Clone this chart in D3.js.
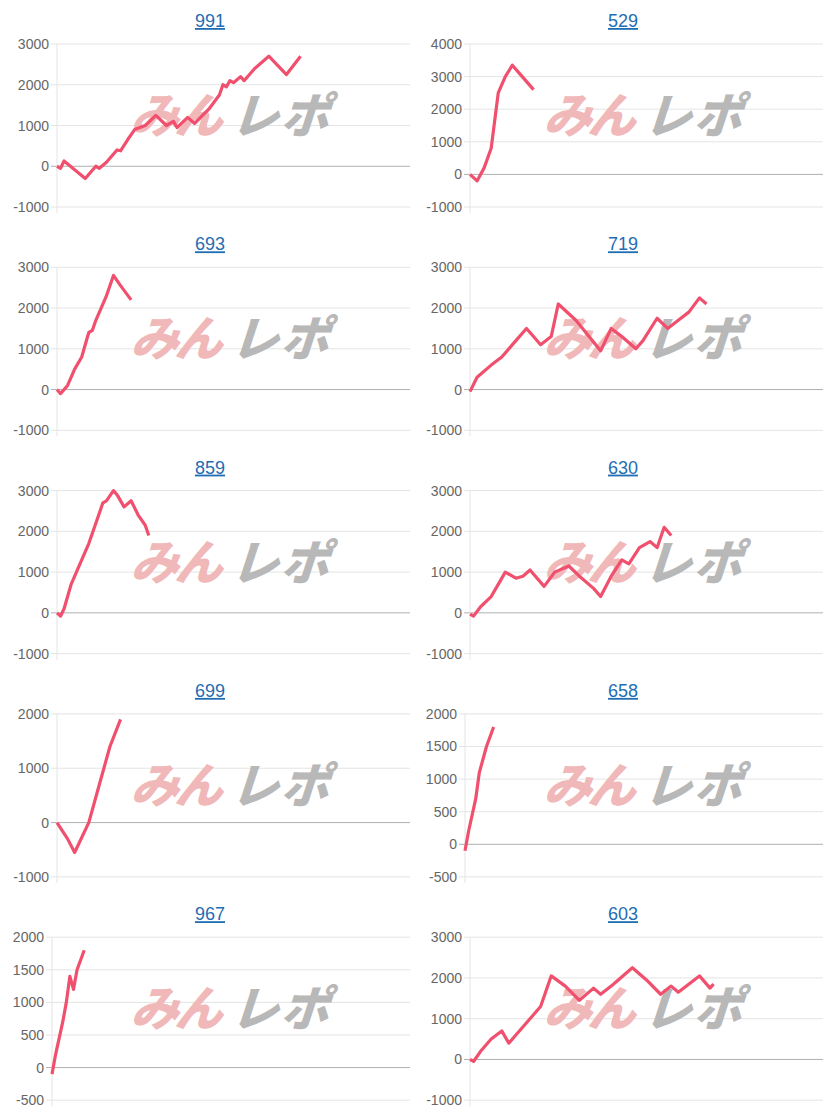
<!DOCTYPE html>
<html><head><meta charset="utf-8">
<script src="https://cdn.jsdelivr.net/npm/d3@7"></script>
<style>body{margin:0;background:#fff;font-family:"Liberation Sans",Arial,sans-serif}</style>
</head><body>
<svg id="c" width="826" height="1115"></svg>
<script>
const titles = ['991', '529', '693', '719', '859', '630', '699', '658', '967', '603'];

// [game index, profit]
const s991 = [[0,0],[1,-50],[2,130],[8,-300],[11,0],[12,-50],[14,100],[17,400],[18,380],[20,650],[22,900],[25,1000],[28,1250],[31,1000],[33,1100],[34,950],[37,1200],[39,1050],[43,1400],[46,1750],[47,2000],[48,1950],[49,2100],[50,2050],[52,2200],[53,2100],[56,2400],[60,2700],[65,2250],[69,2700]];
const s529 = [[0,0],[2,-200],[4,200],[6,800],[8,2500],[10,3000],[12,3350],[14,3100],[18,2600]];
const s693 = [[0,0],[1,-100],[3,100],[5,500],[7,800],[9,1400],[10,1450],[11,1700],[14,2300],[16,2800],[18,2550],[21,2200]];
const s719 = [[0,-50],[2,300],[6,600],[9,800],[13,1200],[16,1500],[18,1300],[20,1100],[23,1300],[25,2100],[30,1700],[37,950],[40,1500],[43,1300],[47,1000],[49,1200],[53,1750],[56,1500],[59,1700],[62,1900],[65,2250],[67,2100]];
const s859 = [[0,0],[1,-80],[2,100],[4,700],[7,1300],[9,1700],[11,2200],[13,2700],[14,2750],[16,3000],[17,2900],[19,2600],[21,2750],[23,2400],[25,2150],[26,1900]];
const s630 = [[0,-30],[1,-80],[3,150],[6,400],[8,700],[10,1000],[13,850],[15,900],[17,1050],[21,650],[24,1000],[28,1150],[31,900],[35,600],[37,400],[40,900],[43,1300],[45,1200],[48,1600],[51,1750],[53,1600],[55,2100],[57,1900]];
const s699 = [[0,0],[3,-300],[5,-550],[9,0],[12,700],[15,1400],[18,1900]];
const s658 = [[0,-100],[1,200],[3,700],[4,1100],[6,1500],[8,1800]];
const s967 = [[0,-100],[1,200],[3,700],[4,1000],[5,1400],[6,1200],[7,1500],[9,1800]];
const s603 = [[0,0],[1,-50],[3,200],[6,500],[9,700],[11,400],[13,600],[17,1000],[20,1300],[23,2050],[27,1800],[31,1450],[35,1750],[37,1600],[40,1800],[42,1950],[46,2250],[50,1950],[54,1600],[57,1800],[59,1650],[65,2050],[68,1750],[69,1850]];
const series = [s991, s529, s693, s719, s859, s630, s699, s658, s967, s603];

const yDomains = [[-1000,3000],[-1000,4000],[-1000,3000],[-1000,3000],[-1000,3000],[-1000,3000],[-1000,2000],[-500,2000],[-500,2000],[-1000,3000]];
const ySteps = [1000,1000,1000,1000,1000,1000,1000,500,500,1000];
const xMax = 100;

const svg = d3.select('#c');
const rowH = 223.3;

series.forEach((data, i) => {
    const col = i % 2, row = Math.floor(i / 2);
    const g = svg.append('g').attr('transform', `translate(${col * 413},${row * rowH})`);
    const top = 44, bottom = 207, right = 410;
    const [y0, y1] = yDomains[i];
    const ticks = d3.range(y0, y1 + 1, ySteps[i]);
    const left = ticks.some(t => String(t).length >= 5) ? 57 : 52;

    const x = d3.scaleLinear().domain([0, xMax]).range([left, right]);
    const y = d3.scaleLinear().domain([y0, y1]).range([bottom, top]);

    g.append('text').attr('x', 210).attr('y', 27).attr('text-anchor', 'middle')
        .attr('fill', '#1f6db3').attr('font-size', 18).attr('text-decoration', 'underline')
        .text(titles[i]);

    // grid
    g.selectAll('.grid').data(ticks).join('line')
        .attr('x1', left - 6).attr('x2', right)
        .attr('y1', d => y(d)).attr('y2', d => y(d))
        .attr('stroke', d => d === 0 ? '#b0b0b0' : '#e4e4e4').attr('stroke-width', 1);
    g.append('line').attr('x1', left).attr('x2', left).attr('y1', top).attr('y2', bottom + 6)
        .attr('stroke', '#e4e4e4');

    g.selectAll('.lbl').data(ticks).join('text')
        .attr('x', left - 8).attr('y', d => y(d) + 5).attr('text-anchor', 'end')
        .attr('fill', '#666').attr('font-size', 14).text(d => d);

    // watermark
    const wm = g.append('g').attr('transform', 'translate(100,133) skewX(-18)')
        .attr('font-size', 48).attr('font-weight', 900).attr('font-family', '"Noto Sans CJK JP"');
    wm.append('text').attr('x', 30).attr('fill', '#f0b8b8').attr('textLength', 92).text('みん');
    wm.append('text').attr('x', 130).attr('fill', '#b8b8b8').attr('textLength', 98).text('レポ');

    const line = d3.line().x(d => x(d[0])).y(d => y(d[1]));
    g.append('path').datum(data).attr('d', line)
        .attr('fill', 'none').attr('stroke', '#f0506e').attr('stroke-width', 3.2)
        .attr('stroke-linejoin', 'round');
});
</script>
</body></html>
